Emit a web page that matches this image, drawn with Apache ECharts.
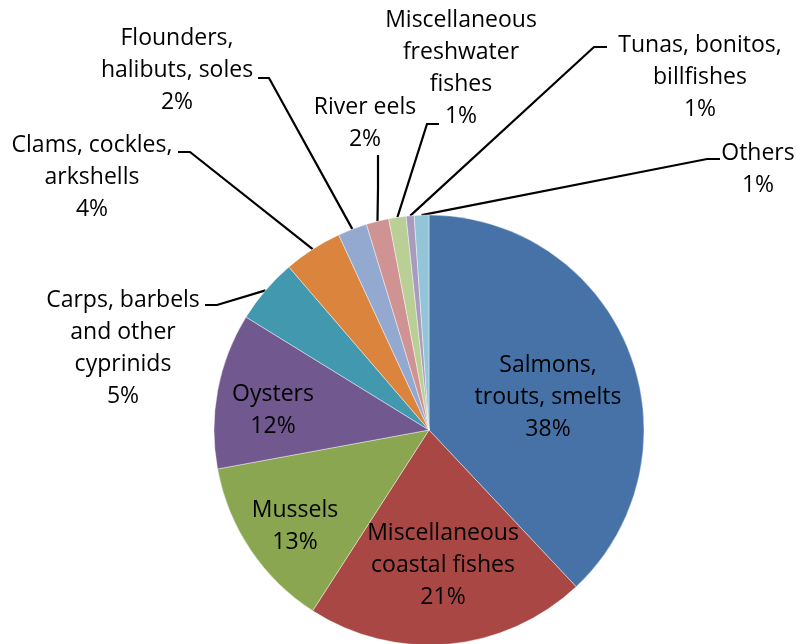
<!DOCTYPE html>
<html>
<head>
<meta charset="utf-8">
<script src="https://cdn.jsdelivr.net/npm/echarts@6/dist/echarts.min.js"></script>
<style>
  html, body { margin: 0; padding: 0; background: #fff; }
  #chart { width: 797px; height: 644px; }
</style>
</head>
<body>
<div id="chart"></div>
<script>
// share of production, percent
const categories = [
  'Salmons,\ntrouts, smelts',
  'Miscellaneous\ncoastal fishes',
  'Mussels',
  'Oysters',
  'Carps, barbels\nand other\ncyprinids',
  'Clams, cockles,\narkshells',
  'Flounders,\nhalibuts, soles',
  'River eels',
  'Miscellaneous\nfreshwater\nfishes',
  'Tunas, bonitos,\nbillfishes',
  'Others'
];
const values = [38.0, 21.1, 13.0, 11.7, 4.9, 4.4, 2.2, 1.7, 1.3, 0.6, 1.1];
const insideLabels = [true, true, true, true, false, false, false, false, false, false, false];

const colors = ['#4672A8', '#A94744', '#8BA650', '#71588F', '#4298AF', '#DA843E',
                '#94A9D0', '#D09393', '#BACF96', '#A99BBD', '#93C4D8'];

// label block centres and leader-line elbows (layout only)
const labelPos = [
  [548, 397], [443, 565], [295, 526], [273, 410],
  [123, 348], [92, 177], [177, 70], [365, 123], [461, 68], [700, 77], [758, 169]
];
const elbows = [
  null, null, null, null,
  [[217, 305], [205, 305]],
  [[190, 152], [178, 152]],
  [[269, 78], [258, 78]],
  [[378, 188], [378, 155]],
  [[427, 124], [439, 124]],
  [[594, 47], [607, 47]],
  [[707, 159], [720, 159]]
];

const chart = echarts.init(document.getElementById('chart'));

chart.setOption({
  animation: false,
  color: colors,
  series: [{
    type: 'pie',
    center: [429, 430],
    radius: 215,
    startAngle: 90,
    clockwise: true,
    avoidLabelOverlap: false,
    percentPrecision: 0,
    itemStyle: { borderColor: 'rgba(255,255,255,0.7)', borderWidth: 0.6 },
    label: {
      show: true,
      formatter: '{b}\n{d}%',
      fontFamily: 'Open Sans',
      fontSize: 23,
      lineHeight: 32,
      color: '#000',
      align: 'center'
    },
    labelLine: {
      show: true,
      lineStyle: { color: '#000', width: 2.2 }
    },
    emphasis: { disabled: true },
    labelLayout: function (params) {
      const pos = labelPos[params.dataIndex];
      const out = {
        x: pos[0], y: pos[1],
        align: 'center', verticalAlign: 'middle',
        hideOverlap: false, moveOverlap: false
      };
      const el = elbows[params.dataIndex];
      if (el && params.labelLinePoints) {
        out.labelLinePoints = [params.labelLinePoints[0], el[0], el[1]];
      }
      return out;
    },
    data: categories.map((name, i) => ({
      name: name,
      value: values[i],
      label: { position: insideLabels[i] ? 'inside' : 'outside' },
      labelLine: { show: !insideLabels[i] }
    }))
  }]
});
</script>
</body>
</html>
